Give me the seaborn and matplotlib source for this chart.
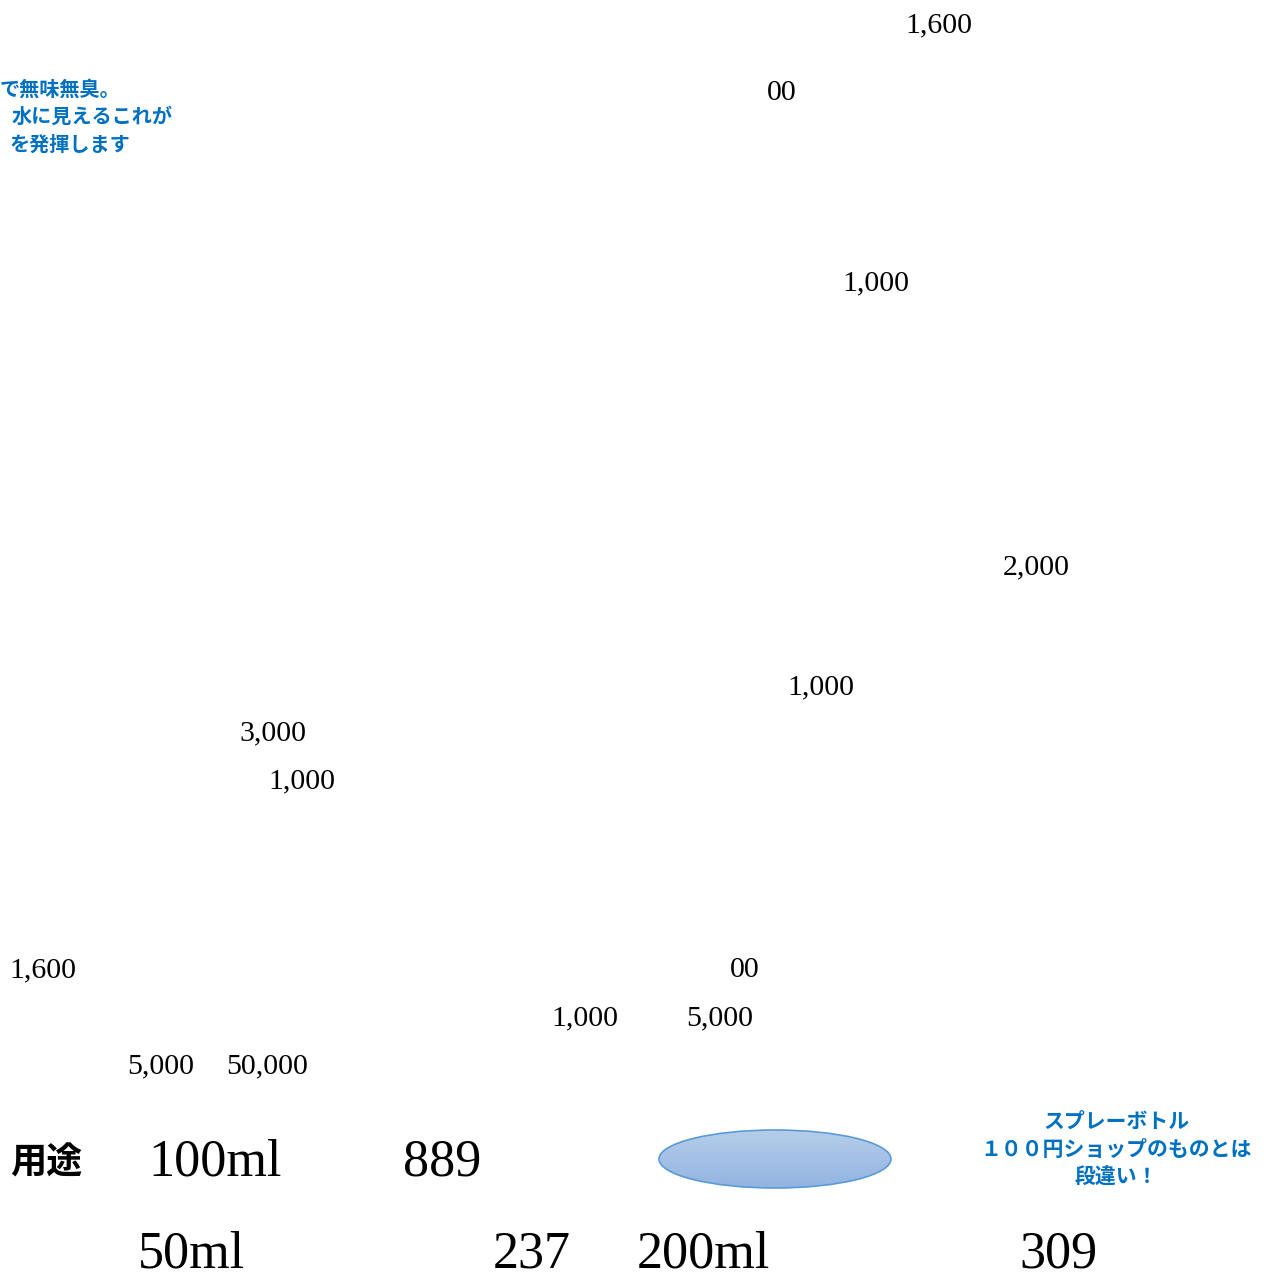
import matplotlib
matplotlib.use("Agg")
from matplotlib import pyplot as plt
from matplotlib.patches import Ellipse
from matplotlib.colors import LinearSegmentedColormap
import seaborn as sns
import numpy as np

# price labels scattered over the page (small)
small_labels = ['1,600', '00', '1,000', '2,000', '1,000', '3,000', '1,000',
                '1,600', '00', '1,000', '5,000', '5,000', '50,000']
small_x = [905, 767, 842, 1003, 787, 239, 268, 9, 730, 551, 686, 127, 226]
small_y = [32, 100, 290, 574, 694, 740, 788, 977, 977, 1025, 1025, 1073, 1073]

# size / count table at the bottom (large)
big_labels = ['100ml', '889', '50ml', '237', '200ml', '309']
big_x = [148, 403, 138, 493, 637, 1019]
big_y = [1175, 1175, 1268, 1268, 1268, 1268]

# blue notes (left one runs off the page edge in the original)
note_left = ['で無味無臭。', '水に見えるこれが', 'を発揮します']
note_left_x = [0, 12, 10]
note_left_y = [89, 116, 144]
note_right = ['スプレーボトル', '１００円ショップのものとは', '段違い！']
note_right_y = [1121, 1149, 1176]

BLUE = '#0070C0'
CJK = ['Noto Sans CJK JP', 'DejaVu Sans']

sns.set_theme(style="white")
plt.rcParams['font.family'] = ['Liberation Serif', 'Noto Sans CJK JP']

fig = plt.figure(figsize=(12.69, 12.79), dpi=100)
ax = fig.add_axes([0, 0, 1, 1])

for lab, x, y in zip(small_labels, small_x, small_y):
    ax.text(x, y, lab, fontsize=21.5, ha='left', va='baseline', color='black')

for lab, x, y in zip(big_labels, big_x, big_y):
    ax.text(x, y, lab, fontsize=37.5, ha='left', va='baseline', color='black')

ax.text(10, 1163, '用途', fontsize=26, fontweight='bold', family=CJK,
        ha='left', va='center', color='black')

for txt, x, y in zip(note_left, note_left_x, note_left_y):
    ax.text(x, y, txt, fontsize=14.5, fontweight='bold', family=CJK,
            ha='left', va='center', color=BLUE)

for txt, y in zip(note_right, note_right_y):
    ax.text(1116, y, txt, fontsize=15, fontweight='bold', family=CJK,
            ha='center', va='center', color=BLUE)

# blue gradient ellipse
ell = Ellipse((775, 1159), 232, 58, facecolor='none', edgecolor='#5B9BD5', lw=1.2, zorder=3)
ax.add_patch(ell)
cmap = LinearSegmentedColormap.from_list('blu', ['#B6CDEA', '#92B4E1'])
grad = np.linspace(0, 1, 100).reshape(-1, 1)
im = ax.imshow(grad, extent=[659, 891, 1188, 1130], cmap=cmap, aspect='auto',
               origin='upper', zorder=2)
im.set_clip_path(ell)

ax.set_xlim(0, 1269)
ax.set_ylim(1279, 0)
ax.axis('off')

plt.savefig('out.png', dpi=100)
